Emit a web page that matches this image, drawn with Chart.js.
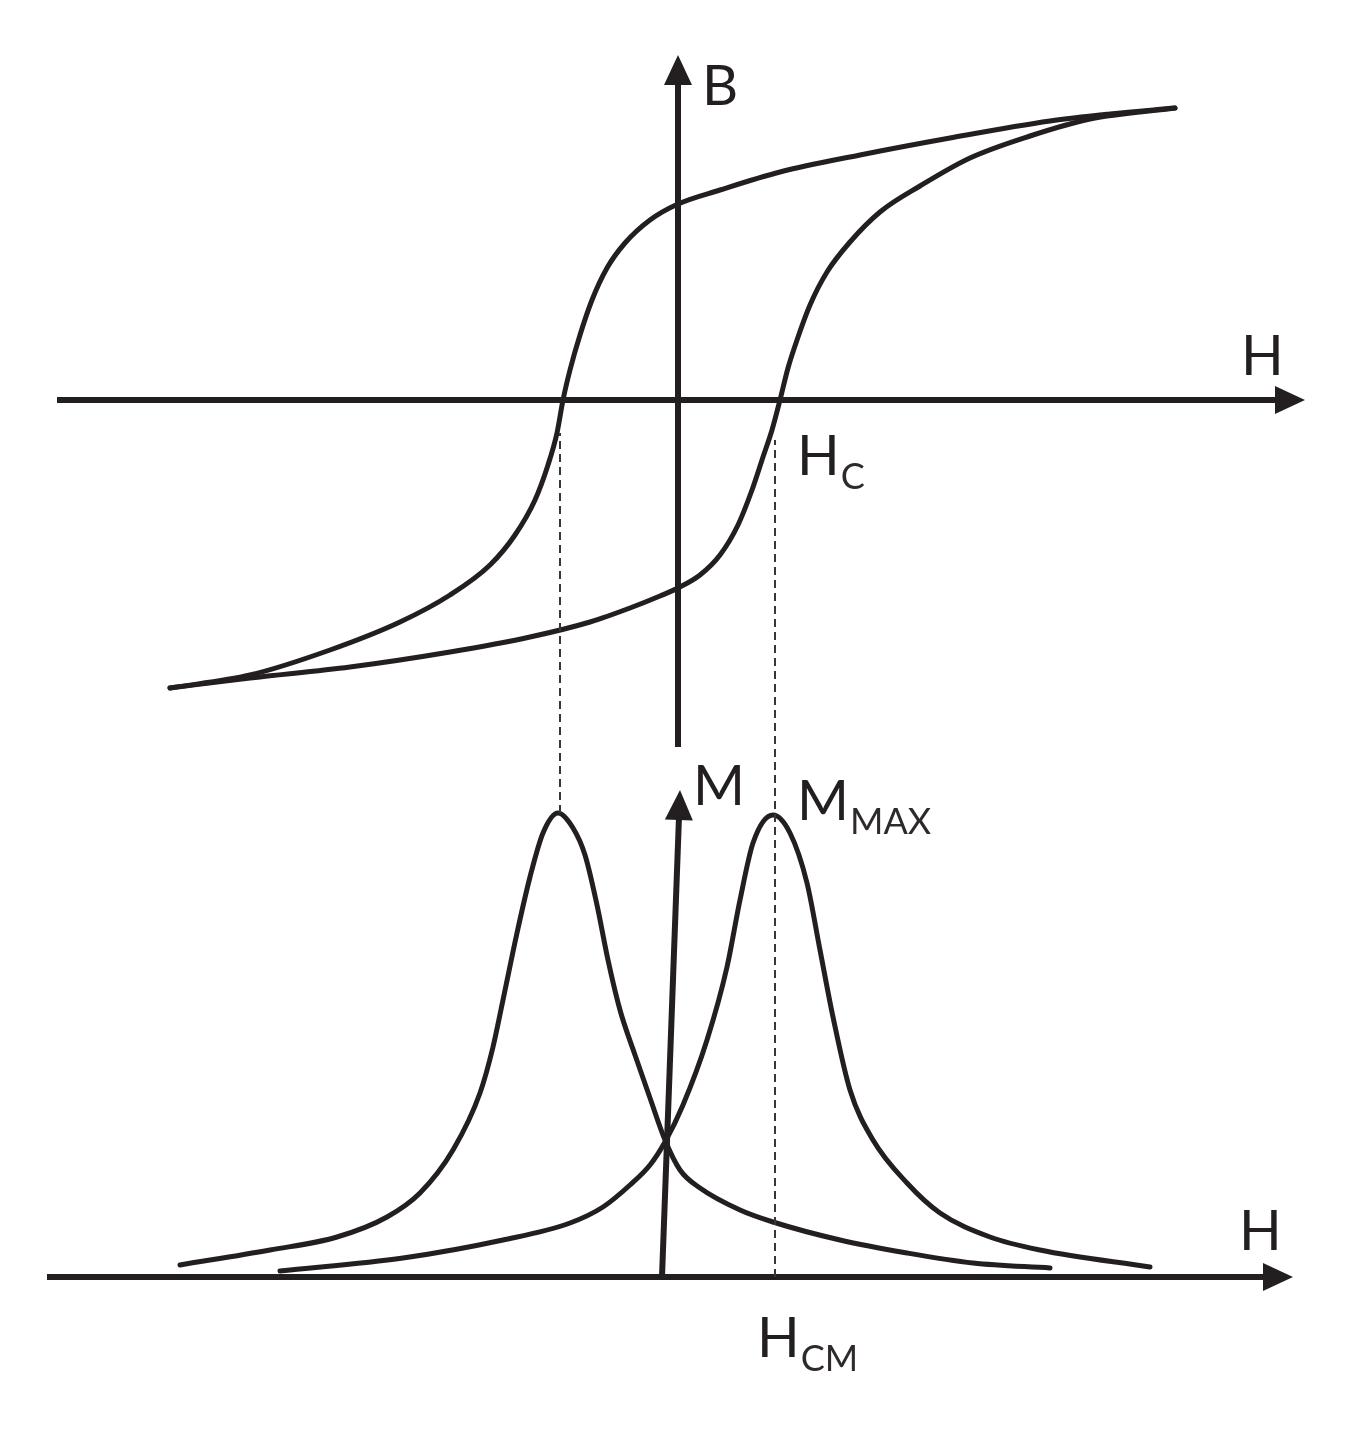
<!DOCTYPE html>
<html>
<head>
<meta charset="utf-8">
<title>Hysteresis loop and noise peaks</title>
<script src="https://cdn.jsdelivr.net/npm/chart.js@4.4.1/dist/chart.umd.min.js"></script>
<style>
  html, body { margin: 0; padding: 0; background: #fff; }
  #wrap { width: 1364px; height: 1440px; position: relative; }
</style>
</head>
<body>
<div id="wrap"><canvas id="myChart"></canvas></div>
<script>
// Hysteresis loop, B against H (arbitrary units)
// descending branch (upper part of the loop)
const loopUpperH = [-5.08, -4.28, -3.48, -2.78, -2.28, -1.88, -1.63, -1.43, -1.30, -1.21, -1.15, -1.08, -0.98, -0.86, -0.71, -0.53, -0.28, 0.00, 0.42, 1.02, 1.82, 2.72, 3.72, 4.32, 4.97];
const loopUpperB = [-2.88, -2.75, -2.50, -2.22, -1.95, -1.65, -1.35, -1.00, -0.65, -0.33, 0.00, 0.30, 0.65, 1.00, 1.32, 1.57, 1.80, 1.96, 2.10, 2.28, 2.45, 2.62, 2.79, 2.86, 2.92];
// ascending branch (lower part of the loop)
const loopLowerH = [-5.08, -4.28, -3.28, -2.28, -1.48, -0.88, -0.48, -0.18, 0.00, 0.22, 0.42, 0.60, 0.74, 0.85, 0.94, 1.02, 1.10, 1.19, 1.32, 1.49, 1.72, 2.02, 2.42, 2.92, 3.52, 4.12, 4.97];
const loopLowerB = [-2.88, -2.78, -2.67, -2.52, -2.37, -2.22, -2.08, -1.96, -1.88, -1.75, -1.55, -1.25, -0.90, -0.57, -0.30, 0.00, 0.32, 0.60, 0.95, 1.28, 1.58, 1.88, 2.14, 2.42, 2.64, 2.81, 2.92];

// M against H, one peak per coercive field
const peakLeftH = [-4.98, -4.08, -3.41, -2.91, -2.58, -2.25, -1.98, -1.85, -1.75, -1.61, -1.48, -1.35, -1.20, -1.05, -0.93, -0.81, -0.70, -0.58, -0.43, -0.28, -0.13, 0.02, 0.22, 0.62, 0.95, 1.62, 2.29, 2.95, 3.72];
const peakLeftM = [0.12, 0.27, 0.40, 0.60, 0.84, 1.27, 1.84, 2.30, 2.77, 3.44, 4.00, 4.44, 4.64, 4.49, 4.22, 3.72, 3.17, 2.67, 2.22, 1.79, 1.37, 1.07, 0.89, 0.67, 0.55, 0.37, 0.24, 0.14, 0.09];
const peakRightH = [-3.98, -2.75, -1.75, -1.08, -0.75, -0.48, -0.28, -0.13, 0.05, 0.29, 0.49, 0.62, 0.75, 0.95, 1.12, 1.29, 1.42, 1.55, 1.72, 1.95, 2.29, 2.62, 3.12, 3.62, 4.72];
const peakRightM = [0.06, 0.19, 0.37, 0.54, 0.70, 0.92, 1.12, 1.35, 1.72, 2.37, 3.10, 3.77, 4.34, 4.62, 4.44, 3.94, 3.27, 2.60, 1.87, 1.37, 0.94, 0.64, 0.40, 0.27, 0.10];

// coercive fields (dashed guides) and their extent in M units
const hcLeft = -1.18, hcRight = 0.97;
const guideLeftM = [4.64, 8.44];
const guideRightM = [0, 8.37];

// axes ends
const axisTopH = [-6.21, 6.19];
const axisB = [-3.47, 3.37];
const axisBottomH = [-6.31, 6.07];
const axisMH = [-0.16, 0.017];
const axisMM = [0, 4.79];

const ink = '#231f20';

function pts(xs, ys) {
  return xs.map((x, i) => ({ x: x, y: ys[i] }));
}

function curve(data, axis) {
  return {
    data: data,
    yAxisID: axis,
    showLine: true,
    borderColor: ink,
    borderWidth: 5,
    borderCapStyle: 'round',
    borderJoinStyle: 'round',
    cubicInterpolationMode: 'monotone',
    pointRadius: 0
  };
}

function axisLine(data, axis) {
  return {
    data: data,
    yAxisID: axis,
    showLine: true,
    arrow: true,
    borderColor: ink,
    borderWidth: 6,
    borderCapStyle: 'butt',
    tension: 0,
    pointRadius: 0
  };
}

function guide(data) {
  return {
    data: data,
    yAxisID: 'y2',
    showLine: true,
    borderColor: '#3a3637',
    borderWidth: 2,
    borderDash: [8, 5],
    tension: 0,
    pointRadius: 0
  };
}

// text labels: main letter, subscript, anchor (H, value), which vertical scale
const labels = [
  { main: 'B', sub: '', h: 0.24, v: 2.95, axis: 'y' },
  { main: 'H', sub: '', h: 5.63, v: 0.25, axis: 'y' },
  { main: 'H', sub: 'C', h: 1.19, v: -0.75, axis: 'y' },
  { main: 'M', sub: '', h: 0.15, v: 4.72, axis: 'y2' },
  { main: 'M', sub: 'MAX', h: 1.19, v: 4.57, axis: 'y2' },
  { main: 'H', sub: '', h: 5.61, v: 0.27, axis: 'y2' },
  { main: 'H', sub: 'CM', h: 0.79, v: -0.80, axis: 'y2' }
];

// draws arrow heads at the end of the axis lines, and the letters
const decorations = {
  id: 'decorations',
  afterDatasetsDraw(chart) {
    const ctx = chart.ctx;
    ctx.save();
    ctx.fillStyle = ink;
    chart.data.datasets.forEach((ds, i) => {
      if (!ds.arrow) return;
      const el = chart.getDatasetMeta(i).data;
      const a = el[el.length - 2], b = el[el.length - 1];
      let dx = b.x - a.x, dy = b.y - a.y;
      const len = Math.hypot(dx, dy);
      dx /= len; dy /= len;
      const tipX = b.x + dx * 8, tipY = b.y + dy * 8;
      const baseX = tipX - dx * 30, baseY = tipY - dy * 30;
      ctx.beginPath();
      ctx.moveTo(tipX, tipY);
      ctx.lineTo(baseX - dy * 14, baseY + dx * 14);
      ctx.lineTo(baseX + dy * 14, baseY - dx * 14);
      ctx.closePath();
      ctx.fill();
    });

    ctx.textBaseline = 'alphabetic';
    ctx.textAlign = 'left';
    labels.forEach(l => {
      const x = chart.scales.x.getPixelForValue(l.h);
      const y = chart.scales[l.axis].getPixelForValue(l.v);
      ctx.fillStyle = ink;
      ctx.font = '56px Lato';
      ctx.fillText(l.main, x, y);
      if (l.sub) {
        const w = ctx.measureText(l.main).width;
        ctx.fillStyle = '#2e2a2b';
        ctx.font = '36px Lato';
        ctx.fillText(l.sub, x + w + 1, y + 14);
      }
    });
    ctx.restore();
  }
};

const ctx = document.getElementById('myChart').getContext('2d');
const myChart = new Chart(ctx, {
  type: 'scatter',
  data: {
    datasets: [
      guide([{ x: hcLeft, y: guideLeftM[0] }, { x: hcLeft, y: guideLeftM[1] }]),
      guide([{ x: hcRight, y: guideRightM[0] }, { x: hcRight, y: guideRightM[1] }]),
      axisLine([{ x: axisTopH[0], y: 0 }, { x: axisTopH[1], y: 0 }], 'y'),
      axisLine([{ x: 0, y: axisB[0] }, { x: 0, y: axisB[1] }], 'y'),
      axisLine([{ x: axisBottomH[0], y: 0 }, { x: axisBottomH[1], y: 0 }], 'y2'),
      axisLine(pts(axisMH, axisMM), 'y2'),
      curve(pts(loopUpperH, loopUpperB), 'y'),
      curve(pts(loopLowerH, loopLowerB), 'y'),
      curve(pts(peakLeftH, peakLeftM), 'y2'),
      curve(pts(peakRightH, peakRightM), 'y2')
    ]
  },
  options: {
    responsive: true,
    maintainAspectRatio: false,
    animation: false,
    layout: { padding: 0 },
    scales: {
      x: { type: 'linear', display: false, min: -6.78, max: 6.86 },
      y: { type: 'linear', display: false, min: -10.40, max: 4.00 },   // B
      y2: { type: 'linear', display: false, min: -1.63, max: 12.77 }   // M
    },
    plugins: {
      legend: { display: false },
      tooltip: { enabled: false }
    }
  },
  plugins: [decorations]
});
</script>
</body>
</html>
